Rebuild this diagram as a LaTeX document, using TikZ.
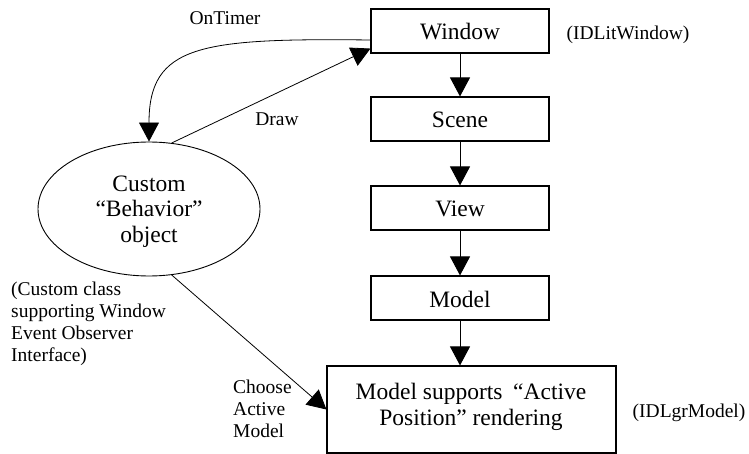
\documentclass[tikz,border=0pt]{standalone}
\usepackage{fontspec}
\setmainfont{Liberation Serif}
\usetikzlibrary{arrows.meta,shapes.geometric}
\newcommand\boxfnt{\fontsize{23.5}{26}\selectfont}
\newcommand\lblfnt{\fontsize{19.5}{22}\selectfont}
\begin{document}
\begin{tikzpicture}[x=1pt,y=-1pt,
  every node/.style={font=\lblfnt},
  box/.style={draw,line width=1.1pt,minimum width=178pt,minimum height=44pt,inner sep=0pt,text height=18pt,text depth=0pt,font=\boxfnt},
  arr/.style={line width=1pt,-{Triangle[length=19pt,width=20pt]}},
  thinarr/.style={line width=0.8pt,-{Triangle[length=19pt,width=20pt]}},
  lbl/.style={anchor=base,inner sep=0pt},
  txt/.style={anchor=north,inner sep=0pt,align=center,font=\boxfnt}]
\useasboundingbox (0,0) rectangle (749,454);
% boxes
\node[box] (win) at (460,31) {Window};
\node[box] (scn) at (460,119) {Scene};
\node[box] (vw) at (460,208) {View};
\node[box] (mdl) at (460,298) {Model};
\node[draw,line width=1.1pt,minimum width=289pt,minimum height=87pt,inner sep=0pt] (big) at (471.5,409.5) {};
\node[txt] (bigtxt) at (471,382.5) {Model supports\hspace{0.45em}“Active\\Position” rendering};
% ellipse
\node[ellipse,draw,line width=0.9pt,minimum width=222pt,minimum height=134pt,inner sep=0pt] (ell) at (149,209) {};
\node[txt,font=\fontsize{23.5}{25.5}\selectfont] (elltxt) at (149,175.7) {Custom\\“Behavior”\\object};
% labels
\node[lbl] (ontimer) at (225,25) {OnTimer};
\node[lbl] (drawlbl) at (277,126) {Draw};
\node[lbl] (idlwin) at (628,40) {(IDLitWindow)};
\node[lbl] (idlgr) at (689,417) {(IDLgrModel)};
\node[anchor=north west,inner sep=0pt,align=left] (custcls) at (11,281.5) {(Custom class\\supporting Window\\Event Observer\\Interface)};
\node[anchor=north west,inner sep=0pt,align=left] (choose) at (233,380) {Choose\\Active\\Model};
% connectors
\draw[arr] (win) -- (scn);
\draw[arr] (scn) -- (vw);
\draw[arr] (vw) -- (mdl);
\draw[arr] (mdl.south) -- (mdl.south |- big.north);
\draw[thinarr] ([yshift=-9pt]win.west) .. controls (200,38) and (149,45) .. (ell.north);
\draw[thinarr] (ell.71) -- ([yshift=5pt]win.south west);
\draw[thinarr] (ell.-71) -- (big.west);
\end{tikzpicture}
\end{document}
